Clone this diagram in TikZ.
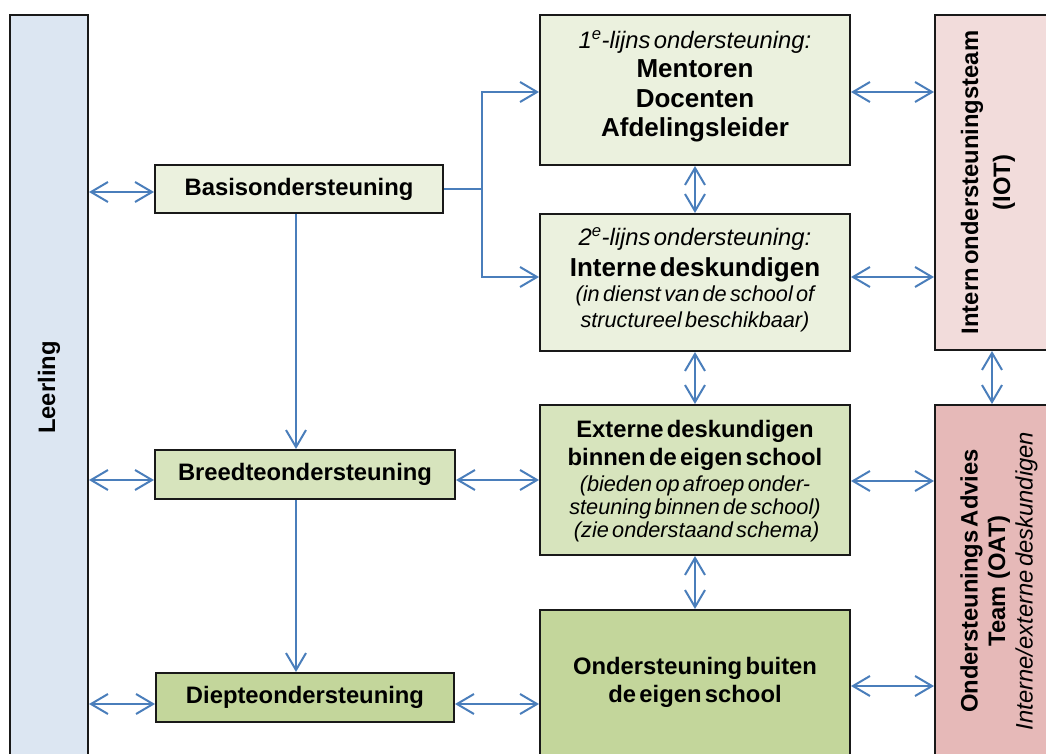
\documentclass[tikz,border=0pt]{standalone}
\usepackage{fontspec}
\setmainfont{Liberation Sans}
\usetikzlibrary{arrows.meta}
\definecolor{arrblue}{HTML}{4A7EBB}
\definecolor{leerfill}{HTML}{DCE6F2}
\definecolor{gA}{HTML}{EBF1DE}
\definecolor{gB}{HTML}{D7E4BD}
\definecolor{gC}{HTML}{C3D69B}
\definecolor{pA}{HTML}{F2DCDB}
\definecolor{pB}{HTML}{E6B9B8}
\newcommand\myB{\fontsize{23.8}{28}\selectfont\bfseries}
\newcommand\myH{\fontsize{26}{29.5}\selectfont\bfseries}
\newcommand\myR{\fontsize{23.8}{27.5}\selectfont\itshape}
\newcommand\myS{\fontsize{21.7}{23}\selectfont\itshape}
\tikzset{
  box/.style={draw=black!90, line width=2pt, inner sep=0pt, rectangle},
  txt/.style={inner sep=0pt, align=center},
  arr/.style={draw=arrblue, line width=2pt, {Straight Barb[length=17pt,width=20pt]}-{Straight Barb[length=17pt,width=20pt]}},
  arrone/.style={draw=arrblue, line width=2pt, -{Straight Barb[length=17pt,width=20pt]}}
}
\begin{document}
\begin{tikzpicture}[x=1pt,y=-1pt]
\useasboundingbox (0,0) rectangle (1046,754);
\clip (0,0) rectangle (1046,754);

% left column
\node[box, fill=leerfill, minimum width=78pt, minimum height=745pt] (leer) at (49,387.5) {};
\node[txt, rotate=90, font=\myB] (leertxt) at (leer.center) {Leerling};

\node[box, fill=gA, minimum width=288pt, minimum height=48pt, font=\myB] (basis) at (299,189) {Basisondersteuning};
\node[box, fill=gB, minimum width=300pt, minimum height=49pt, font=\myB] (breedte) at (305,474.5) {Breedteondersteuning};
\node[box, fill=gC, minimum width=298pt, minimum height=49pt, font=\myB] (diepte) at (305,697.5) {Diepteondersteuning};

% middle column
\node[box, fill=gA, minimum width=310pt, minimum height=150pt] (b1) at (695,90) {};
\node[txt, text width=300pt] (t1) at (695,86.5) {{\myR 1\textsuperscript{e}-lijns ondersteuning:\par}{\myH Mentoren\par Docenten\par Afdelingsleider\par}};

\node[box, fill=gA, minimum width=310pt, minimum height=137pt] (b2) at (695,282.5) {};
\node[txt, text width=300pt] (t2) at (695,279.6) {{\myR 2\textsuperscript{e}-lijns ondersteuning:\par}{\fontsize{26}{31}\selectfont\bfseries Interne deskundigen\par}{\fontsize{21.7}{25.5}\selectfont\itshape (in dienst van de school of\par structureel beschikbaar)\par}};

\node[box, fill=gB, minimum width=310pt, minimum height=150pt] (b3) at (695,480) {};
\node[txt, text width=300pt] (t3) at (695,481) {{\myB Externe deskundigen\par binnen de eigen school\par}\vspace{3pt}{\myS (bieden op afroep onder-\par steuning binnen de school)\par \ (zie onderstaand schema)\par}};

\node[box, fill=gC, minimum width=310pt, minimum height=147pt] (b4) at (695,683.5) {};
\node[txt, text width=300pt] (t4) at (695,682.7) {{\myB Ondersteuning buiten\par de eigen school\par}};

% right column
\node[box, fill=pA, minimum width=135pt, minimum height=335pt] (iot) at (1002.5,182.5) {};
\node[txt, rotate=90, text width=330pt] (tiot) at (988,182.5) {{\fontsize{23.8}{32}\selectfont\bfseries Intern ondersteuningsteam\par (IOT)\par}};

\node[box, fill=pB, minimum width=135pt, minimum height=355pt] (oat) at (1002.5,582.5) {};
\node[txt, rotate=90, text width=340pt] (toat) at (999,581) {{\fontsize{23.8}{27.5}\selectfont\bfseries Ondersteunings Advies\par Team\ \ (OAT)\par}{\myR Interne/externe deskundigen\par}};

% helper levels
\coordinate (j) at (482,189);
\coordinate (yBa) at (0,192);
\coordinate (y1) at (0,92);
\coordinate (y2) at (0,277);
\coordinate (yBr) at (0,480);
\coordinate (yD) at (0,704);
\coordinate (y3) at (0,481);
\coordinate (y4) at (0,686);
\coordinate (xv) at (296,0);
\coordinate (xr) at (992,0);

% connectors
\draw[arr] (leer.east |- yBa) -- (basis.west |- yBa);
\draw[arrone] (basis.east |- j) -- (j) |- (b1.west |- y1);
\draw[arrone] (j) |- (b2.west |- y2);
\draw[arrone] (basis.south -| xv) -- (breedte.north -| xv);
\draw[arrone] (breedte.south -| xv) -- (diepte.north -| xv);
\draw[arr] (leer.east |- yBr) -- (breedte.west |- yBr);
\draw[arr] (breedte.east |- yBr) -- (b3.west |- yBr);
\draw[arr] (leer.east |- yD) -- (diepte.west |- yD);
\draw[arr] (diepte.east |- yD) -- (b4.west |- yD);
\draw[arr] (b1.south) -- (b2.north);
\draw[arr] (b2.south) -- (b3.north);
\draw[arr] (b3.south) -- (b4.north);
\draw[arr] (b1.east |- y1) -- (iot.west |- y1);
\draw[arr] (b2.east |- y2) -- (iot.west |- y2);
\draw[arr] (b3.east |- y3) -- (oat.west |- y3);
\draw[arr] (b4.east |- y4) -- (oat.west |- y4);
\draw[arr] (iot.south -| xr) -- (oat.north -| xr);
\end{tikzpicture}
\end{document}
